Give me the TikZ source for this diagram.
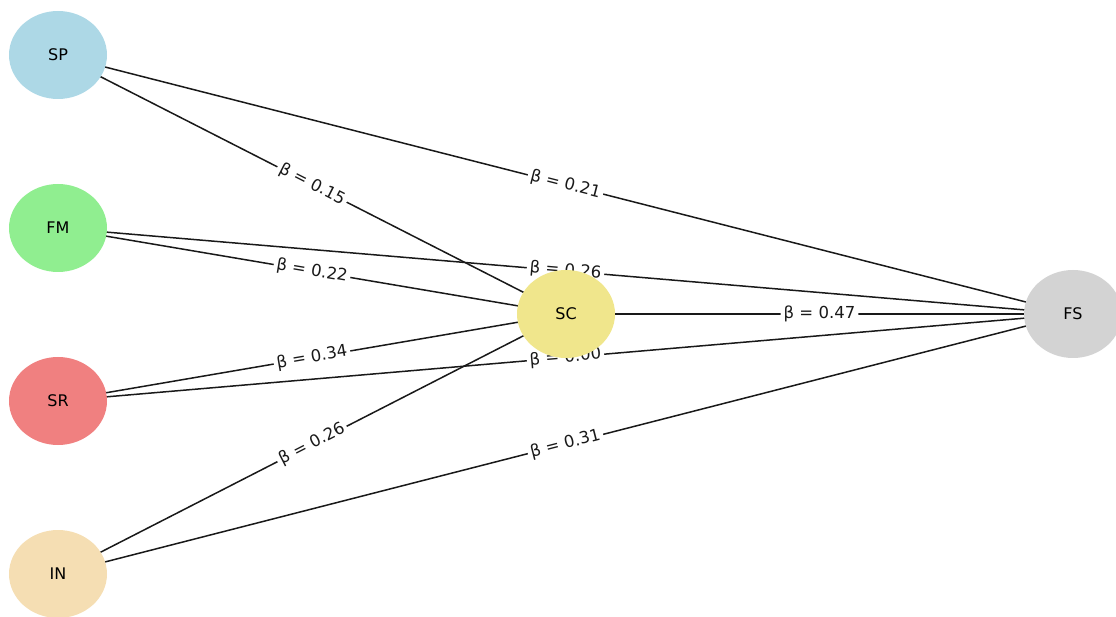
\documentclass[tikz,border=0pt]{standalone}
\usepackage{fontspec}
\setmainfont{DejaVu Sans}
\usetikzlibrary{shapes.geometric}
\pgfdeclarelayer{edges}
\pgfdeclarelayer{labels}
\pgfsetlayers{edges,labels,main}
\definecolor{cSP}{HTML}{ADD8E6}
\definecolor{cFM}{HTML}{90EE90}
\definecolor{cSR}{HTML}{F08080}
\definecolor{cIN}{HTML}{F5DEB3}
\definecolor{cSC}{HTML}{F0E68C}
\definecolor{cFS}{HTML}{D3D3D3}
\tikzset{
  var/.style={ellipse, minimum width=98pt, minimum height=88pt, inner sep=0pt,
    font=\fontsize{16}{19}\selectfont},
  link/.style={line width=1.5pt, black!90},
  coef/.style={sloped, fill=white, inner sep=3pt, rounded corners=3pt,
    font=\fontsize{16.5}{19}\selectfont, text=black!90}
}
\begin{document}
\begin{tikzpicture}[x=1pt, y=-1pt]
\useasboundingbox (0,0) rectangle (1116,617);
% variables
\node[var, fill=cSP] (sp) at (58,55) {SP};
\node[var, fill=cFM] (fm) at (58,228) {FM};
\node[var, fill=cSR] (sr) at (58,401) {SR};
\node[var, fill=cIN] (in) at (58,574) {IN};
\node[var, fill=cSC] (sc) at (566,314) {SC};
\node[var, fill=cFS] (fs) at (1073,314) {FS};
% paths between centres
\begin{pgfonlayer}{edges}
\foreach \a/\b in {sp/sc, sp/fs, fm/sc, fm/fs, sr/sc, sr/fs, in/sc, in/fs, sc/fs}
  \draw[link] (\a.center) -- (\b.center);
\end{pgfonlayer}
% path coefficients
\begin{pgfonlayer}{labels}
\path (sp.center) -- node[coef] {β = 0.15} (sc.center);
\path (sp.center) -- node[coef] {β = 0.21} (fs.center);
\path (fm.center) -- node[coef] {β = 0.22} (sc.center);
\path (fm.center) -- node[coef] {β = 0.26} (fs.center);
\path (sr.center) -- node[coef] {β = 0.34} (sc.center);
\path (sr.center) -- node[coef] {β = 0.00} (fs.center);
\path (in.center) -- node[coef] {β = 0.26} (sc.center);
\path (in.center) -- node[coef] {β = 0.31} (fs.center);
\path (sc.center) -- node[coef] {β = 0.47} (fs.center);
\end{pgfonlayer}
\end{tikzpicture}
\end{document}
